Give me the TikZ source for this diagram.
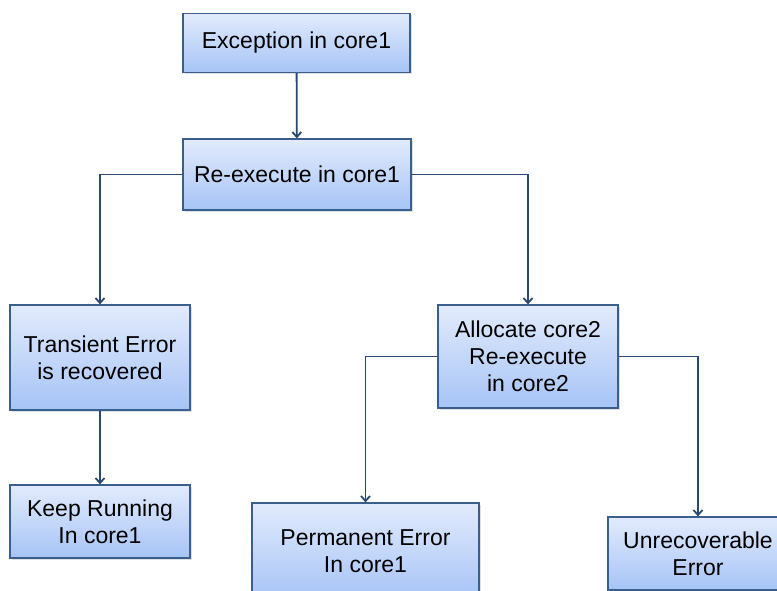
\documentclass[tikz,border=0pt]{standalone}
\usepackage{fontspec}
\setmainfont{Liberation Sans}
\usetikzlibrary{arrows.meta,shadows}
\definecolor{boxedge}{HTML}{3A5F8C}
\definecolor{boxtop}{HTML}{E2EBFC}
\definecolor{boxbot}{HTML}{A6C4F6}
\definecolor{linkcol}{HTML}{2A4870}
\tikzset{
  flowbox/.style={draw=boxedge, line width=1.3pt, top color=boxtop, bottom color=boxbot,
    align=center, inner sep=0pt, font=\fontsize{23}{27}\selectfont,
    drop shadow={shadow xshift=1.5pt, shadow yshift=-1.5pt, opacity=0.25}},
  link/.style={draw=linkcol, line width=1.8pt, -{Straight Barb[length=5pt,width=9pt]}}
}
\begin{document}
\begin{tikzpicture}[x=1pt,y=-1pt]
\useasboundingbox (0,0) rectangle (777,590);
\clip (0,0) rectangle (777,590);
\node[flowbox, minimum width=227pt, minimum height=59pt] (exc) at (296.5,43) {Exception in core1};
\node[flowbox, minimum width=228pt, minimum height=71pt] (rex) at (297,174.5) {Re-execute in core1};
\node[flowbox, minimum width=180pt, minimum height=105pt] (tra) at (100,357.5) {Transient Error\\is recovered};
\node[flowbox, minimum width=180pt, minimum height=73pt] (kee) at (100,521.5) {Keep Running\\In core1};
\node[flowbox, minimum width=180pt, minimum height=103pt] (all) at (528,356.5) {Allocate core2\\Re-execute\\in core2};
\node[flowbox, minimum width=227pt, minimum height=96pt] (per) at (365.5,551) {Permanent Error\\In core1};
\node[flowbox, minimum width=180pt, minimum height=73pt] (unr) at (698,553.5) {Unrecoverable\\Error};
\draw[link] (exc) -- (rex);
\draw[link] (rex.west) -| (tra.north);
\draw[link] (rex.east) -| (all.north);
\draw[link] (tra) -- (kee);
\draw[link] (all.west) -| (per.north);
\draw[link] (all.east) -| (unr.north);
\end{tikzpicture}
\end{document}
